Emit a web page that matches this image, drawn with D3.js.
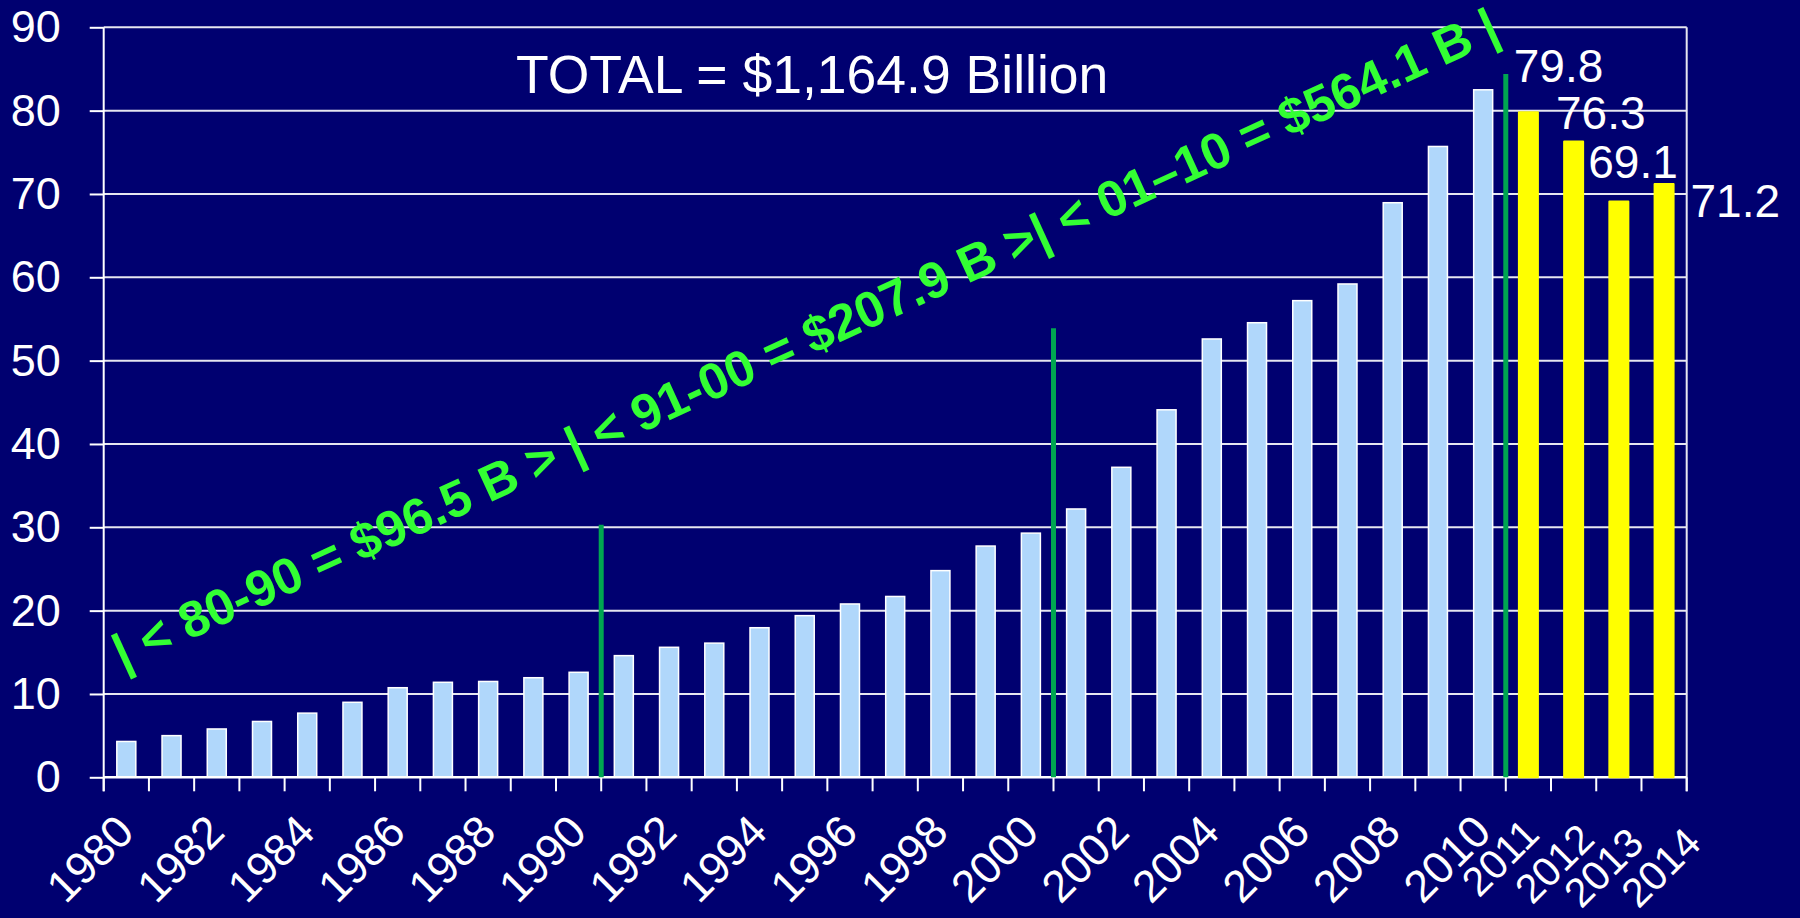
<!DOCTYPE html>
<html>
<head>
<meta charset="utf-8">
<script src="https://cdn.jsdelivr.net/npm/d3@7"></script>
<style>
  body { margin: 0; background: #000070; }
  svg { display: block; }
</style>
</head>
<body>
<div id="chart"></div>
<script>
// actual spending 1980-2010, $ billion
var years = ["1980","1981","1982","1983","1984","1985","1986","1987","1988","1989",
             "1990","1991","1992","1993","1994","1995","1996","1997","1998","1999",
             "2000","2001","2002","2003","2004","2005","2006","2007","2008","2009","2010"];
var actual = [4.3, 5.0, 5.8, 6.7, 7.7, 9.0, 10.75, 11.4, 11.5, 11.95,
              12.6, 14.6, 15.6, 16.1, 17.95, 19.4, 20.8, 21.7, 24.8, 27.75,
              29.3, 32.2, 37.2, 44.1, 52.6, 54.55, 57.2, 59.2, 68.95, 75.7, 82.5];

// projected years
var forecastYears = ["2011","2012","2013","2014"];
var forecast = [79.8, 76.3, 69.1, 71.2];

var tickYears = ["1980","1982","1984","1986","1988","1990","1992","1994","1996","1998",
                 "2000","2002","2004","2006","2008","2010","2011","2012","2013","2014"];
var yTicks = [0, 10, 20, 30, 40, 50, 60, 70, 80, 90];

// decade dividers: drawn after the given year, up to this value
var dividerYears = ["1990","2000","2010"];
var dividerTops = [30.3, 53.9, 84.4];

var title = "TOTAL = $1,164.9 Billion";
var decadeNote = "| < 80-90 = $96.5 B > | < 91-00 = $207.9 B >| < 01\u201310 = $564.1 B |";

var margin = {top: 27.3, right: 113.3, bottom: 140.7, left: 103.7},
    width = 1800 - margin.left - margin.right,
    height = 918 - margin.top - margin.bottom;

var font = "'Liberation Sans', Arial, sans-serif";
var allYears = years.concat(forecastYears);

var x = d3.scaleBand()
    .domain(allYears)
    .range([0, width])
    .paddingInner(0.58)
    .paddingOuter(0.29);

var y = d3.scaleLinear()
    .domain([0, 90])
    .range([height, 0]);

// left edge of a year's slot
function edge(d) { return x(d) - (x.step() - x.bandwidth()) / 2; }

var svg = d3.select("#chart").append("svg")
    .attr("width", 1800)
    .attr("height", 918)
    .style("background", "#000070")
    .append("g")
    .attr("transform", "translate(" + margin.left + "," + margin.top + ")");

//gridlines
svg.selectAll("line.grid")
    .data(yTicks.slice(1))
    .enter()
    .append("line")
    .attr("class", "grid")
    .attr("x1", 0)
    .attr("x2", width)
    .attr("y1", function(d) { return y(d); })
    .attr("y2", function(d) { return y(d); })
    .attr("stroke", "#e6e6f0")
    .attr("stroke-width", 2);

// right frame line
svg.append("line")
    .attr("x1", width).attr("x2", width)
    .attr("y1", y(90)).attr("y2", height + 14)
    .attr("stroke", "#e6e6f0")
    .attr("stroke-width", 2);

//actual bars
svg.selectAll("rect.actual")
    .data(actual)
    .enter()
    .append("rect")
    .attr("class", "actual")
    .attr("x", function(d, i) { return x(years[i]); })
    .attr("y", function(d) { return y(d); })
    .attr("width", x.bandwidth())
    .attr("height", function(d) { return height - y(d); })
    .style("fill", "#b0d7fb")
    .style("stroke", "#ffffff")
    .style("stroke-width", 1.5);

//y axis
var yAxis = d3.axisLeft(y)
    .tickValues(yTicks)
    .tickSize(14)
    .tickPadding(29)
    .tickFormat(d3.format("d"));

var gy = svg.append("g")
    .attr("class", "y axis")
    .call(yAxis);
gy.select(".domain").remove();
gy.selectAll("line").attr("stroke", "#ffffff").attr("stroke-width", 2);
gy.selectAll("text")
    .attr("fill", "#ffffff")
    .style("font-family", font)
    .style("font-size", "45px");

svg.append("line")
    .attr("x1", 0).attr("x2", 0)
    .attr("y1", y(90)).attr("y2", height + 14)
    .attr("stroke", "#ffffff")
    .attr("stroke-width", 2);

//x axis: ticks between slots
var edges = allYears.map(edge).concat([width]);
svg.selectAll("line.xtick")
    .data(edges)
    .enter()
    .append("line")
    .attr("class", "xtick")
    .attr("x1", function(d) { return d; })
    .attr("x2", function(d) { return d; })
    .attr("y1", height)
    .attr("y2", height + 14)
    .attr("stroke", "#ffffff")
    .attr("stroke-width", 2);

svg.append("line")
    .attr("x1", 0).attr("x2", width)
    .attr("y1", height).attr("y2", height)
    .attr("stroke", "#ffffff")
    .attr("stroke-width", 2.5);

// the last four labels sit a bit lower and smaller on the slide
var lateNudge = {"2011": [13, 59], "2012": [23, 64], "2013": [27, 68], "2014": [39, 68]};

svg.selectAll("text.xlabel")
    .data(tickYears)
    .enter()
    .append("text")
    .attr("class", "xlabel")
    .attr("text-anchor", "end")
    .attr("transform", function(d) {
      var n = lateNudge[d] || [10, 57];
      var cx = x(d) + x.bandwidth() / 2 + n[0];
      var cy = height + n[1];
      return "translate(" + cx + "," + cy + ") rotate(-45)";
    })
    .attr("fill", "#ffffff")
    .style("font-family", font)
    .style("font-size", function(d) { return lateNudge[d] ? "41px" : "45px"; })
    .text(function(d) { return d; });

//decade dividers
svg.selectAll("line.divider")
    .data(dividerYears)
    .enter()
    .append("line")
    .attr("class", "divider")
    .attr("x1", function(d) { return edge(d) + x.step(); })
    .attr("x2", function(d) { return edge(d) + x.step(); })
    .attr("y1", height)
    .attr("y2", function(d, i) { return y(dividerTops[i]); })
    .attr("stroke", "#00a651")
    .attr("stroke-width", 5);

//forecast bars
svg.selectAll("rect.forecast")
    .data(forecast)
    .enter()
    .append("rect")
    .attr("class", "forecast")
    .attr("x", function(d, i) { return x(forecastYears[i]); })
    .attr("y", function(d) { return y(d); })
    .attr("width", x.bandwidth())
    .attr("height", function(d) { return height - y(d); })
    .style("fill", "#ffff00")
    .style("stroke", "#ffff00")
    .style("stroke-width", 2)
    .style("stroke-linejoin", "round");

// value labels, nudged like the slide
var nudge = [[8, -30], [5, -12], [-8, -23], [49, 33]];
svg.selectAll("text.value")
    .data(forecast)
    .enter()
    .append("text")
    .attr("class", "value")
    .attr("x", function(d, i) { return edge(forecastYears[i]) + nudge[i][0]; })
    .attr("y", function(d, i) { return y(d) + nudge[i][1]; })
    .attr("fill", "#ffffff")
    .style("font-family", font)
    .style("font-size", "46px")
    .text(function(d) { return d.toFixed(1); });

//title
svg.append("text")
    .attr("x", 516 - margin.left)
    .attr("y", 93 - margin.top)
    .attr("fill", "#ffffff")
    .style("font-family", font)
    .style("font-size", "53.5px")
    .text(title);

//decade totals, slanted
svg.append("text")
    .attr("transform", "translate(" + (edge("1980") + 19) + "," + y(12.8) + ") rotate(-24.6)")
    .attr("fill", "#33ff33")
    .style("font-family", font)
    .style("font-weight", "bold")
    .style("font-size", "51px")
    .text(decadeNote);
</script>
</body>
</html>
